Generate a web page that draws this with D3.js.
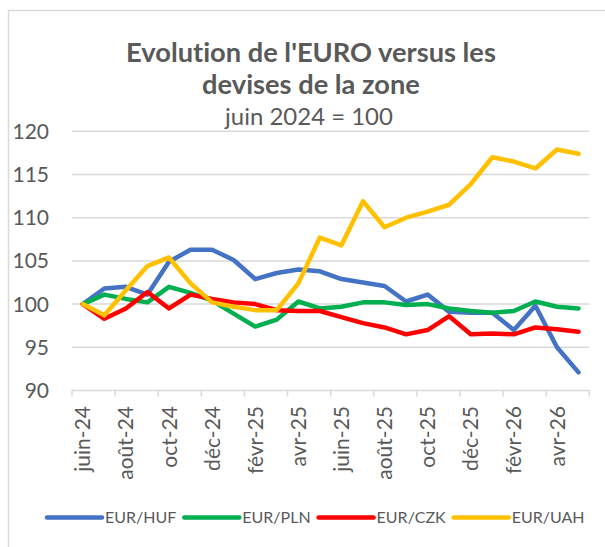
<!DOCTYPE html>
<html><head><meta charset="utf-8">
<script src="https://cdn.jsdelivr.net/npm/d3@7"></script>
<style>body{margin:0;background:#fff}svg{display:block}text{font-family:Lato,"Open Sans",sans-serif;font-variant-ligatures:none;font-feature-settings:"liga" 0}</style>
</head><body><svg id="c" width="605" height="547"></svg>
<script>
const months = ["juin-24","juil-24","août-24","sept-24","oct-24","nov-24","déc-24","janv-25","févr-25","mars-25","avr-25","mai-25","juin-25","juil-25","août-25","sept-25","oct-25","nov-25","déc-25","janv-26","févr-26","mars-26","avr-26","mai-26"];
const seriesNames = ["EUR/HUF","EUR/PLN","EUR/CZK","EUR/UAH"];
const huf = [100,101.8,102.0,101.1,104.9,106.3,106.3,105.1,102.9,103.6,104.0,103.8,102.9,102.5,102.1,100.3,101.1,99.1,99.0,99.0,97.0,99.8,95.0,92.1];
const pln = [100,101.1,100.6,100.2,102.0,101.3,100.4,98.9,97.4,98.2,100.3,99.5,99.7,100.2,100.2,99.9,100.0,99.5,99.2,99.0,99.2,100.3,99.7,99.5];
const czk = [100,98.3,99.5,101.4,99.5,101.1,100.6,100.2,100.0,99.3,99.2,99.2,98.5,97.8,97.3,96.5,97.0,98.6,96.5,96.6,96.5,97.3,97.1,96.8];
const uah = [100,98.7,101.6,104.4,105.4,102.4,100.2,99.7,99.3,99.3,102.4,107.7,106.8,111.9,108.9,110.0,110.7,111.5,113.9,117.0,116.5,115.7,117.9,117.4];
const yTicks = [90,95,100,105,110,115,120];
const colors = ["#4472C4","#00B050","#FF0000","#FFC000"];
const allSeries = [huf,pln,czk,uah];

const svg = d3.select("#c");
const txt = "#595959", grid = "#D9D9D9";

svg.append("rect").attr("x",8.5).attr("y",10.5).attr("width",640).attr("height",600)
  .attr("fill","none").attr("stroke",grid).attr("stroke-width",1.5);

const x = d3.scaleBand().domain(months).range([72,589.3]).padding(0);
const y = d3.scaleLinear().domain([90,120]).range([390.5,131.3]);
const cx = m => x(m) + x.bandwidth()/2;

// gridlines
svg.append("g").selectAll("line").data(yTicks.filter(t=>t>90)).join("line")
  .attr("x1",72).attr("x2",589.3).attr("y1",d=>y(d)).attr("y2",d=>y(d))
  .attr("stroke",grid).attr("stroke-width",1.5);

// y labels
svg.append("g").selectAll("text").data(yTicks).join("text")
  .attr("x",49).attr("y",d=>y(d)).attr("dy","0.36em").attr("text-anchor","end")
  .attr("fill",txt).style("font-size","21px").text(d=>d);

// x axis
svg.append("line").attr("x1",72).attr("x2",589.3).attr("y1",y(90)).attr("y2",y(90))
  .attr("stroke",grid).attr("stroke-width",1.5);
const tickPos = months.filter((m,i)=>i%2===0).map(m=>x(m)).concat([x.range()[1]]);
svg.append("g").selectAll("line").data(tickPos).join("line")
  .attr("x1",d=>d).attr("x2",d=>d).attr("y1",y(90)).attr("y2",y(90)+6)
  .attr("stroke",grid).attr("stroke-width",1.5);
svg.append("g").selectAll("text").data(months.filter((m,i)=>i%2===0)).join("text")
  .attr("transform",d=>`translate(${cx(d)},406) rotate(-90)`)
  .attr("dy","0.36em").attr("text-anchor","end").attr("fill",txt)
  .style("font-size","21px").text(d=>d);

// lines
const line = d3.line().x((d,i)=>cx(months[i])).y(d=>y(d));
svg.append("g").selectAll("path").data(allSeries).join("path")
  .attr("d",line).attr("fill","none").attr("stroke",(d,i)=>colors[i])
  .attr("stroke-width",4.5).attr("stroke-linejoin","round").attr("stroke-linecap","round");

// title
function fit(sel, target){ const n=sel.node(); const base=parseFloat(sel.style("font-size")); const w=n.getComputedTextLength(); sel.style("font-size",(base*target/w)+"px"); }
const t1 = svg.append("text").attr("x",311).attr("y",61.5).attr("text-anchor","middle").attr("fill",txt)
  .style("font-weight","bold").style("font-size","24px").text("Evolution de l'EURO versus les");
fit(t1,370);
const t2 = svg.append("text").attr("x",311).attr("y",93.5).attr("text-anchor","middle").attr("fill",txt)
  .style("font-weight","bold").style("font-size",t1.style("font-size")).text("devises de la zone");
const t3 = svg.append("text").attr("x",309).attr("y",124.5).attr("text-anchor","middle").attr("fill",txt)
  .style("font-size","21px").text("juin 2024 = 100");
fit(t3,168);

// legend
let lx = 47;
const lg = svg.append("g");
seriesNames.forEach((name,i)=>{
  lg.append("line").attr("x1",lx).attr("x2",lx+55).attr("y1",517.5).attr("y2",517.5)
    .attr("stroke",colors[i]).attr("stroke-width",4.5).attr("stroke-linecap","round");
  const t = lg.append("text").attr("x",lx+58).attr("y",517.5).attr("dy","0.36em")
    .attr("fill",txt).style("font-size","16px").text(name);
  lx += 58 + t.node().getComputedTextLength() + 8;
});
</script></body></html>
